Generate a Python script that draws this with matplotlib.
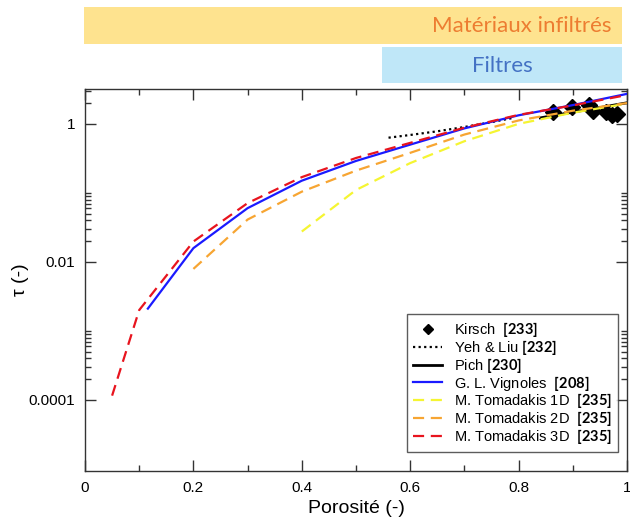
import matplotlib
matplotlib.use("Agg")
import matplotlib.pyplot as plt
from matplotlib.patches import Rectangle
from matplotlib.ticker import FixedLocator, MultipleLocator, NullFormatter

plt.rcParams["font.family"] = ["Liberation Sans", "DejaVu Sans"]
plt.rcParams["mathtext.fontset"] = "custom"
plt.rcParams["mathtext.bf"] = "Lato:bold"
plt.rcParams["mathtext.rm"] = "Lato"

# data
kirsch_p = [0.864, 0.898, 0.929, 0.938, 0.962, 0.972, 0.981]
kirsch_tau = [1.49, 1.76, 1.87, 1.53, 1.49, 1.36, 1.41]

yeh_p = [0.56, 0.60, 0.65, 0.70, 0.75, 0.79]
yeh_tau = [0.63, 0.69, 0.78, 0.90, 1.06, 1.22]

pich_p = [0.84, 0.90, 0.95, 1.0]
pich_tau = [1.22, 1.48, 1.72, 2.02]

vig_p = [0.116, 0.2, 0.3, 0.4, 0.5, 0.6, 0.7, 0.8, 0.9, 1.0]
vig_tau = [0.0021, 0.0158, 0.060, 0.150, 0.29, 0.50, 0.86, 1.33, 1.87, 2.72]

tom1_p = [0.4, 0.5, 0.6, 0.7, 0.8, 0.9, 1.0]
tom1_tau = [0.0275, 0.11, 0.27, 0.56, 1.0, 1.45, 1.97]

tom2_p = [0.2, 0.3, 0.4, 0.5, 0.6, 0.7, 0.8, 0.9, 1.0]
tom2_tau = [0.0079, 0.041, 0.104, 0.21, 0.38, 0.70, 1.12, 1.55, 2.0]

tom3_p = [0.05, 0.1, 0.2, 0.3, 0.4, 0.5, 0.6, 0.7, 0.8, 0.9, 1.0]
tom3_tau = [1.15e-4, 2.0e-3, 0.0197, 0.071, 0.169, 0.32, 0.53, 0.88, 1.35, 1.85, 2.62]

labels = [
    r"Kirsch  $\mathbf{[233]}$",
    r"Yeh & Liu $\mathbf{[232]}$",
    r"Pich $\mathbf{[230]}$",
    r"G. L. Vignoles  $\mathbf{[208]}$",
    r"M. Tomadakis 1D  $\mathbf{[235]}$",
    r"M. Tomadakis 2D  $\mathbf{[235]}$",
    r"M. Tomadakis 3D  $\mathbf{[235]}$",
]

fig = plt.figure(figsize=(6.3, 5.18), dpi=100)
ax = fig.add_axes([85 / 630, 1 - 471 / 518, 542 / 630, 382 / 518])

h_k, = ax.plot(kirsch_p, kirsch_tau, ls="none", marker="D", ms=8, color="black", zorder=2)
h_y, = ax.plot(yeh_p, yeh_tau, ls=(0, (1, 1.5)), lw=1.6, color="black", zorder=3)
h_p, = ax.plot(pich_p, pich_tau, ls="-", lw=2.0, color="black", zorder=3)
h_v, = ax.plot(vig_p, vig_tau, ls="-", lw=1.6, color="#1a1aff", zorder=4)
h_1, = ax.plot(tom1_p, tom1_tau, ls=(0, (5, 3)), lw=1.6, color="#f5f532", zorder=3)
h_2, = ax.plot(tom2_p, tom2_tau, ls=(0, (5, 3)), lw=1.6, color="#f7a532", zorder=3)
h_3, = ax.plot(tom3_p, tom3_tau, ls=(0, (5, 3)), lw=1.6, color="#e8141e", zorder=5)

ax.set_yscale("log")
ax.set_xlim(0, 1)
ax.set_ylim(9.3e-6, 3.2)

ax.set_xticks([0, 0.2, 0.4, 0.6, 0.8, 1.0])
ax.set_xticklabels(["0", "0.2", "0.4", "0.6", "0.8", "1"])
ax.xaxis.set_minor_locator(MultipleLocator(0.1))

ax.yaxis.set_major_locator(FixedLocator([1e-4, 1e-2, 1]))
ax.set_yticklabels(["0.0001", "0.01", "1"])
minor = [k * 10.0 ** n for n in (-4, -2, 0) for k in range(2, 10)] + [1e-3, 1e-1]
ax.yaxis.set_minor_locator(FixedLocator(minor))
ax.yaxis.set_minor_formatter(NullFormatter())

ax.tick_params(which="both", direction="in", top=True, right=True, labelsize=11, color="#333333")
ax.tick_params(which="major", length=8, width=1, pad=7)
ax.tick_params(which="minor", length=4, width=1)
for s in ax.spines.values():
    s.set_linewidth(1.0)
    s.set_color("#333333")

ax.set_xlabel("Porosité (-)", fontsize=14, labelpad=4)
ax.set_ylabel("τ (-)", fontsize=14, labelpad=0)

leg = ax.legend([h_k, h_y, h_p, h_v, h_1, h_2, h_3], labels,
                loc="lower right", bbox_to_anchor=(0.983, 0.05), borderaxespad=0,
                fontsize=10.5, frameon=True, fancybox=False, edgecolor="#333333",
                labelspacing=-0.08, handlelength=2.0, handletextpad=0.8,
                borderpad=0.4, markerscale=0.7)
leg.get_frame().set_linewidth(1.0)

# top banners
fig.patches.append(Rectangle((84 / 630, 1 - 44 / 518), 538 / 630, 37 / 518,
                             transform=fig.transFigure, facecolor="#fee38f", edgecolor="none"))
fig.patches.append(Rectangle((382 / 630, 1 - 83 / 518), 240 / 630, 36 / 518,
                             transform=fig.transFigure, facecolor="#bfe7f8", edgecolor="none"))
fig.text(522 / 630, 1 - 26 / 518, "Matériaux infiltrés", color="#ed7d31",
         fontsize=16, family="Lato", ha="center", va="center")
fig.text(502 / 630, 1 - 66 / 518, "Filtres", color="#4472c4",
         fontsize=16, family="Lato", ha="center", va="center")

fig.savefig("out.png", dpi=100)
